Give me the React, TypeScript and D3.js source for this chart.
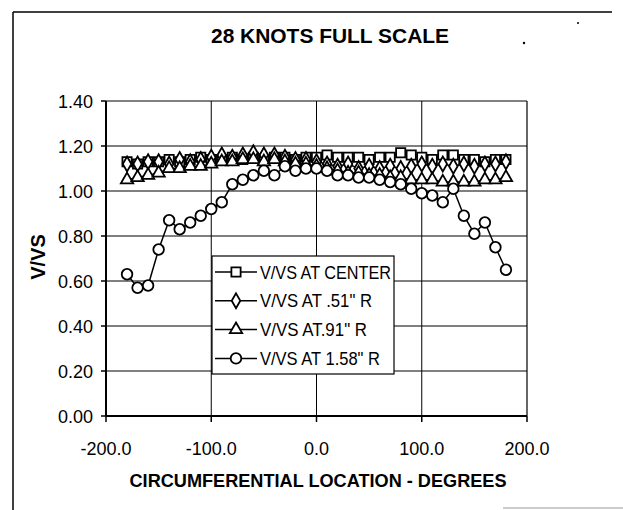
import React from "react";
import * as d3 from "d3";

const angles = [-180,-170,-160,-150,-140,-130,-120,-110,-100,-90,-80,-70,-60,-50,-40,-30,-20,-10,0,10,20,30,40,50,60,70,80,90,100,110,120,130,140,150,160,170,180];

const centerVals = [1.13,1.12,1.13,1.13,1.14,1.13,1.14,1.15,1.14,1.14,1.15,1.14,1.15,1.14,1.15,1.15,1.14,1.15,1.15,1.16,1.15,1.15,1.15,1.14,1.15,1.15,1.17,1.16,1.15,1.14,1.16,1.16,1.14,1.14,1.13,1.14,1.14];
const r51Vals = [1.12,1.12,1.13,1.13,1.12,1.14,1.13,1.14,1.15,1.16,1.15,1.16,1.17,1.16,1.16,1.15,1.14,1.14,1.13,1.12,1.11,1.12,1.10,1.11,1.10,1.11,1.10,1.11,1.12,1.11,1.12,1.11,1.12,1.11,1.12,1.12,1.13];
const r91Vals = [1.05,1.06,1.07,1.08,1.10,1.10,1.11,1.11,1.12,1.13,1.13,1.14,1.14,1.13,1.14,1.13,1.12,1.12,1.11,1.10,1.09,1.08,1.08,1.07,1.07,1.06,1.06,1.05,1.05,1.05,1.04,1.04,1.04,1.04,1.05,1.05,1.06];
const r158Vals = [0.63,0.57,0.58,0.74,0.87,0.83,0.86,0.89,0.92,0.95,1.03,1.05,1.07,1.09,1.07,1.11,1.09,1.10,1.10,1.09,1.07,1.07,1.06,1.06,1.05,1.04,1.03,1.01,0.99,0.98,0.95,1.01,0.89,0.81,0.86,0.75,0.65];

const seriesNames = ["V/VS AT CENTER", "V/VS AT .51\" R", "V/VS AT.91\" R", "V/VS AT 1.58\" R"];
const seriesShapes = ["square", "diamond", "triangle", "circle"];
const seriesValues = [centerVals, r51Vals, r91Vals, r158Vals];

const yTicks = [0, 0.2, 0.4, 0.6, 0.8, 1.0, 1.2, 1.4];
const xTicks = [-200, -100, 0, 100, 200];
const xGrid = [-100, 0, 100];

const titleText = "28 KNOTS FULL SCALE";
const xTitle = "CIRCUMFERENTIAL LOCATION - DEGREES";
const yTitle = "V/VS";

const FONT = "'Liberation Sans', Arial, Helvetica, sans-serif";

function Marker({ shape, cx, cy }: { shape: string; cx: number; cy: number }) {
  const common = { fill: "#fff", stroke: "#000", strokeWidth: 1.8 };
  if (shape === "circle") return <circle cx={cx} cy={cy} r={5.3} {...common} />;
  const sym =
    shape === "square" ? d3.symbolSquare : shape === "diamond" ? d3.symbolDiamond : d3.symbolTriangle;
  const size = shape === "square" ? 85 : shape === "diamond" ? 64 : 66;
  const p = d3.symbol().type(sym).size(size)() as string;
  return <path d={p} transform={`translate(${cx},${cy})`} {...common} />;
}

export default function App() {
  const x = d3.scaleLinear().domain([-200, 200]).range([106, 527]);
  const y = d3.scaleLinear().domain([0, 1.4]).range([416, 101]);
  const line = d3
    .line<number>()
    .x((_, i) => x(angles[i]))
    .y((v) => y(v));
  const fmtY = (v: number) => v.toFixed(2);
  const fmtX = (v: number) => v.toFixed(1);
  const legendWidths = [131, 112, 107, 120];

  return (
    <svg width={623} height={510} style={{ position: "absolute", left: 0, top: 0, background: "#fff" }}>
      <rect x={0} y={0} width={623} height={510} fill="#fff" />
      {/* outer frame */}
      <line x1={13} y1={12} x2={612} y2={12} stroke="#000" strokeWidth={1.5} />
      <line x1={13} y1={12} x2={13} y2={510} stroke="#000" strokeWidth={1.5} />
      <line x1={503} y1={508} x2={623} y2={508} stroke="#999" strokeWidth={1} />
      <circle cx={524} cy={43} r={1.2} fill="#000" />
      <circle cx={578} cy={23} r={1} fill="#000" />

      {/* title */}
      <text x={211} y={43} fontFamily={FONT} fontWeight="bold" fontSize={21}
        textLength={238} lengthAdjust="spacingAndGlyphs">{titleText}</text>

      {/* gridlines */}
      {yTicks.slice(1).map((t) => (
        <line key={"gy" + t} x1={x(-200)} x2={x(200)} y1={y(t)} y2={y(t)} stroke="#000" strokeWidth={1} />
      ))}
      {xGrid.map((t) => (
        <line key={"gx" + t} x1={x(t)} x2={x(t)} y1={y(1.4)} y2={y(0)} stroke="#000" strokeWidth={1} />
      ))}
      <line x1={x(200)} x2={x(200)} y1={y(1.4)} y2={y(0)} stroke="#000" strokeWidth={1.2} />

      {/* axes */}
      <line x1={x(-200)} x2={x(-200)} y1={y(1.4)} y2={y(0)} stroke="#000" strokeWidth={2} />
      <line x1={x(-200)} x2={x(200)} y1={y(0)} y2={y(0)} stroke="#000" strokeWidth={2} />
      {yTicks.map((t) => (
        <g key={"yt" + t}>
          <line x1={x(-200) - 5} x2={x(-200)} y1={y(t)} y2={y(t)} stroke="#000" strokeWidth={1.5} />
          <text x={93} y={y(t) + 6.5} textAnchor="end" fontFamily={FONT} fontSize={18}>{fmtY(t)}</text>
        </g>
      ))}
      {xTicks.map((t) => (
        <g key={"xt" + t}>
          <line x1={x(t)} x2={x(t)} y1={y(0)} y2={y(0) + 6} stroke="#000" strokeWidth={1.5} />
          <text x={x(t)} y={455} textAnchor="middle" fontFamily={FONT} fontSize={18}>{fmtX(t)}</text>
        </g>
      ))}

      {/* axis titles */}
      <text x={318} y={487} textAnchor="middle" fontFamily={FONT} fontWeight="bold" fontSize={18}
        textLength={377} lengthAdjust="spacingAndGlyphs">{xTitle}</text>
      <text transform={`translate(45,257) rotate(-90)`} textAnchor="middle" fontFamily={FONT} fontWeight="bold" fontSize={20}>{yTitle}</text>

      {/* series */}
      {seriesValues.map((vals, si) => (
        <g key={"s" + si}>
          <path d={line(vals) as string} fill="none" stroke="#000" strokeWidth={1.5} />
          {vals.map((v, i) => (
            <Marker key={i} shape={seriesShapes[si]} cx={x(angles[i])} cy={y(v)} />
          ))}
        </g>
      ))}

      {/* legend */}
      <rect x={212} y={256} width={182} height={118} fill="#fff" stroke="#000" strokeWidth={1.2} />
      {seriesNames.map((n, i) => {
        const ly = 272 + i * 28.8;
        return (
          <g key={"lg" + i}>
            <line x1={215} x2={257} y1={ly} y2={ly} stroke="#000" strokeWidth={1.5} />
            <Marker shape={seriesShapes[i]} cx={236} cy={ly} />
            <text x={260} y={ly + 6.5} fontFamily={FONT} fontSize={18} textLength={legendWidths[i]}
              lengthAdjust="spacingAndGlyphs">{n}</text>
          </g>
        );
      })}
    </svg>
  );
}
